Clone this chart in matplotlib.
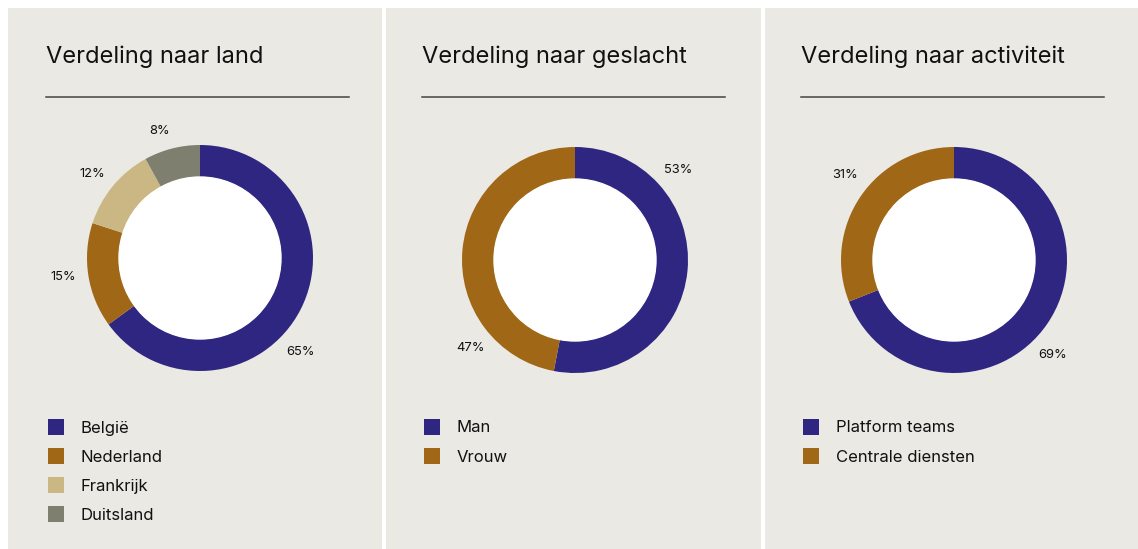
import numpy as np
import matplotlib
matplotlib.use("Agg")
import matplotlib.pyplot as plt
from matplotlib.patches import Rectangle

# ---- data ----
titles = ["Verdeling naar land", "Verdeling naar geslacht", "Verdeling naar activiteit"]
land_labels = ["België", "Nederland", "Frankrijk", "Duitsland"]
land_values = [65, 15, 12, 8]
geslacht_labels = ["Man", "Vrouw"]
geslacht_values = [53, 47]
activiteit_labels = ["Platform teams", "Centrale diensten"]
activiteit_values = [69, 31]

# ---- style / layout ----
W, H = 1138, 549
BG = "#EBE9E4"
NAVY = "#2E2680"
BROWN = "#A06716"
TAN = "#CBB783"
GREY = "#7F7F70"
colors_list = [[NAVY, BROWN, TAN, GREY], [NAVY, BROWN], [NAVY, BROWN]]
panels_x = [(8, 382), (386, 761), (765, 1138)]
text_x = [46, 422, 801]
centers = [(200, 258), (575, 260), (954, 260)]
label_pos = [[(-43, 138), (-172, 138), (142, 137), (107.5, 133)],
             [(41, 137), (-140, 137)],
             [(-44, 137), (142, 138)]]
R_OUT = 113.0
R_IN = 81.0

plt.rcParams['font.family'] = ['Inter', 'DejaVu Sans']

fig = plt.figure(figsize=(W / 100, H / 100), dpi=100)
fig.patch.set_facecolor("white")

def fx(px):
    return px / W

def fy(py):
    return 1 - py / H

datasets = [(land_labels, land_values), (geslacht_labels, geslacht_values),
            (activiteit_labels, activiteit_values)]

for i, ((labels, values), (x0, x1), (cx, cy)) in enumerate(zip(datasets, panels_x, centers)):
    # panel background
    fig.patches.append(Rectangle((fx(x0), -0.01), fx(x1) - fx(x0), fy(8) + 0.01,
                                 transform=fig.transFigure, facecolor=BG,
                                 edgecolor="none", zorder=-5))
    tx = text_x[i]
    fig.text(fx(tx), fy(57), titles[i], fontsize=17, color="#111111",
             va="center", ha="left")
    fig.add_artist(plt.Line2D([fx(tx), fx(tx + 303)], [fy(97), fy(97)],
                              transform=fig.transFigure, color="#444444", lw=1.1))
    # donut
    half = 175.0
    ax = fig.add_axes([fx(cx - half), fy(cy + half), 2 * half / W, 2 * half / H])
    ax.set_zorder(2)
    lim = half / R_OUT
    ax.pie(values, colors=colors_list[i], startangle=90, counterclock=False,
           radius=1.0, wedgeprops=dict(width=1 - R_IN / R_OUT, linewidth=0))
    ax.add_patch(plt.Circle((0, 0), R_IN / R_OUT, color="white", zorder=3))
    ax.set_xlim(-lim, lim)
    ax.set_ylim(-lim, lim)
    ax.set_aspect("equal")
    ax.axis("off")
    for v, (a, rr) in zip(values, label_pos[i]):
        r = rr / R_OUT
        ax.text(r * np.cos(np.radians(a)), r * np.sin(np.radians(a)), f"{v}%",
                ha="center", va="center", fontsize=9.3, color="#111111")
    # legend
    for j, (lab, col) in enumerate(zip(labels, colors_list[i])):
        ry = 427 + 29 * j
        sx = tx + 2
        fig.patches.append(Rectangle((fx(sx), fy(ry + 8)), 16 / W, 16 / H,
                                     transform=fig.transFigure, facecolor=col,
                                     edgecolor="none", zorder=1))
        fig.text(fx(sx + 33), fy(ry + 1), lab, fontsize=12, color="#111111",
                 va="center", ha="left")

fig.savefig("out.png", dpi=100, facecolor="white")
